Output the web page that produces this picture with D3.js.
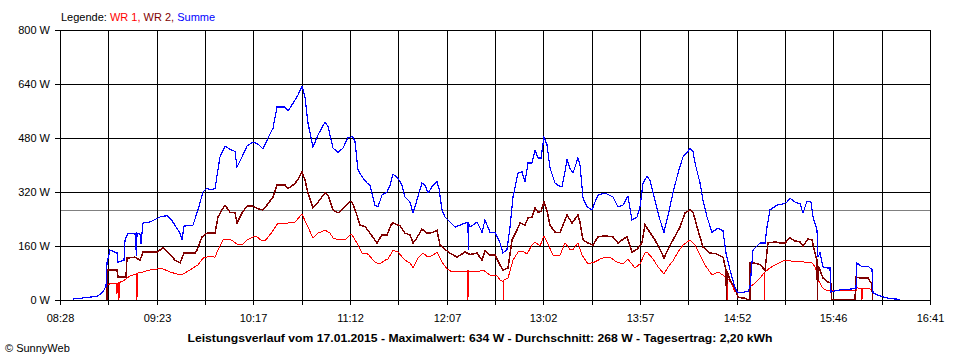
<!DOCTYPE html>
<html><head><meta charset="utf-8">
<script src="https://cdn.jsdelivr.net/npm/d3@7"></script>
<style>
body{margin:0;background:#fff}
svg{display:block}
text{font-family:"Liberation Sans",Arial,sans-serif;font-size:11px}
</style>
</head><body>
<svg id="chart" width="960" height="360"></svg>
<script>
// ---------------- data ----------------
const timeStart = "08:28", timeEnd = "16:41";
const xTickLabels = ["08:28","09:23","10:17","11:12","12:07","13:02","13:57","14:52","15:46","16:41"];
const yTicks = [0,160,320,480,640,800];
const average = 268;
const legendItems = ["WR 1", "WR 2", "Summe"];
const seriesColors = ["#ff0000", "#800000", "#0000ff"];
const titleText = "Leistungsverlauf vom 17.01.2015 - Maximalwert: 634 W - Durchschnitt: 268 W - Tagesertrag: 2,20 kWh";

const summe = [["08:35:22",3],["08:39:20",5],["08:43:52",8],["08:47:50",10],["08:49:32",12],["08:52:22",25],["08:54:04",40],["08:54:38",110],["08:56:20",148],["08:59:10",142],["09:00:18",140],["09:00:52",112],["09:04:16",118],["09:04:50",178],["09:06:32",198],["09:10:30",198],["09:11:21",130],["09:11:38",198],["09:13:20",195],["09:13:54",165],["09:14:28",198],["09:15:02",228],["09:19:00",231],["09:24:40",246],["09:28:38",250],["09:31:28",235],["09:36:00",198],["09:37:08",178],["09:38:16",219],["09:43:22",222],["09:46:12",267],["09:49:02",320],["09:51:18",332],["09:53:00",326],["09:55:50",330],["09:58:40",424],["10:01:30",456],["10:04:20",447],["10:07:10",440],["10:08:18",394],["10:11:08",424],["10:13:58",456],["10:17:22",468],["10:20:12",462],["10:23:02",447],["10:25:52",480],["10:28:42",509],["10:30:58",572],["10:35:30",572],["10:37:12",560],["10:40:02",583],["10:42:52",607],["10:45:08",634],["10:46:50",600],["10:48:32",524],["10:51:22",453],["10:54:12",489],["10:58:10",527],["10:59:52",515],["11:02:42",450],["11:05:32",438],["11:08:22",450],["11:11:12",483],["11:12:20",480],["11:13:28",486],["11:15:10",470],["11:16:52",385],["11:19:08",365],["11:21:58",347],["11:23:40",340],["11:26:30",281],["11:28:12",276],["11:30:28",311],["11:33:18",320],["11:35:00",340],["11:36:42",373],["11:39:32",361],["11:41:48",340],["11:43:30",305],["11:46:20",290],["11:48:02",258],["11:49:44",287],["11:53:08",347],["11:54:50",340],["11:56:32",317],["11:59:22",340],["12:01:38",350],["12:02:46",330],["12:04:28",267],["12:06:10",246],["12:09:00",231],["12:11:50",216],["12:14:40",222],["12:17:30",228],["12:19:12",230],["12:19:22",148],["12:19:32",226],["12:20:20",216],["12:24:18",231],["12:27:08",201],["12:28:50",237],["12:31:40",201],["12:34:30",201],["12:37:20",169],["12:39:02",139],["12:41:18",150],["12:43:00",216],["12:44:42",305],["12:47:32",376],["12:49:48",380],["12:51:30",350],["12:53:12",406],["12:55:28",406],["12:57:10",444],["12:58:52",421],["13:00:34",421],["13:02:16",483],["13:03:58",460],["13:05:40",391],["13:08:30",347],["13:10:12",340],["13:12:28",335],["13:14:10",380],["13:15:18",418],["13:17:00",390],["13:18:42",376],["13:21:32",421],["13:22:40",400],["13:24:22",302],["13:26:38",276],["13:29:28",267],["13:31:10",290],["13:32:52",311],["13:36:50",317],["13:41:22",305],["13:44:12",276],["13:47:02",281],["13:49:52",308],["13:52:08",237],["13:54:58",246],["13:56:40",276],["13:58:22",345],["14:00:38",367],["14:02:20",355],["14:05:10",296],["14:08:00",237],["14:10:16",201],["14:12:32",250],["14:15:22",317],["14:18:12",376],["14:21:02",424],["14:23:52",440],["14:25:00",450],["14:26:42",440],["14:27:50",406],["14:30:40",347],["14:32:22",296],["14:34:38",246],["14:37:28",201],["14:40:52",213],["14:43:42",205],["14:45:24",139],["14:47:40",89],["14:50:30",36],["14:52:12",21],["14:57:52",25],["14:59:00",39],["15:00:42",148],["15:04:40",169],["15:07:30",169],["15:08:38",216],["15:10:20",267],["15:14:18",281],["15:17:42",285],["15:19:58",290],["15:21:40",302],["15:24:30",290],["15:27:20",285],["15:29:02",258],["15:31:18",293],["15:33:34",290],["15:34:42",246],["15:36:58",207],["15:37:32",127],["15:38:40",140],["15:40:22",98],["15:42:38",95],["15:44:20",95],["15:44:54",24],["15:50:00",30],["15:55:40",32],["15:59:04",35],["15:59:38",110],["16:02:28",98],["16:05:52",100],["16:08:08",90],["16:08:42",21],["16:12:40",12],["16:18:20",4],["16:24:00",2]];

const wr2 = [["08:54:38",0],["08:54:46",89],["08:56:20",89],["09:00:18",89],["09:00:52",68],["09:05:24",68],["09:05:58",124],["09:10:30",127],["09:13:20",118],["09:15:02",142],["09:22:58",142],["09:26:22",154],["09:29:12",142],["09:33:10",118],["09:36:00",110],["09:38:16",139],["09:44:30",139],["09:45:38",148],["09:48:28",187],["09:51:18",198],["09:55:50",198],["09:57:32",246],["09:59:48",267],["10:01:30",281],["10:04:20",260],["10:07:10",258],["10:08:18",228],["10:11:08",258],["10:13:58",278],["10:17:22",278],["10:20:12",270],["10:23:02",267],["10:25:52",285],["10:28:42",305],["10:30:58",341],["10:35:30",341],["10:37:12",330],["10:41:10",345],["10:42:52",358],["10:45:08",379],["10:46:50",355],["10:48:32",317],["10:51:22",273],["10:54:12",290],["10:58:10",317],["10:59:52",310],["11:02:42",267],["11:05:32",258],["11:08:22",270],["11:12:20",293],["11:13:28",290],["11:15:44",260],["11:18:00",222],["11:20:50",218],["11:23:40",198],["11:27:38",169],["11:30:28",193],["11:33:18",193],["11:35:34",222],["11:36:42",228],["11:40:40",220],["11:43:30",198],["11:46:20",193],["11:48:02",169],["11:49:44",180],["11:53:08",210],["11:55:58",198],["11:59:22",200],["12:01:38",207],["12:03:20",163],["12:06:10",150],["12:09:00",139],["12:12:58",127],["12:17:30",142],["12:20:20",135],["12:24:18",139],["12:27:08",118],["12:28:50",145],["12:31:40",133],["12:34:30",133],["12:37:20",104],["12:39:02",89],["12:41:52",95],["12:44:08",178],["12:46:58",207],["12:48:40",228],["12:51:30",222],["12:53:12",243],["12:55:28",245],["12:57:10",273],["12:58:52",260],["13:00:34",262],["13:02:16",290],["13:03:58",265],["13:05:40",222],["13:08:30",201],["13:11:20",200],["13:13:02",222],["13:15:18",252],["13:18:08",228],["13:21:32",252],["13:22:40",230],["13:24:22",178],["13:27:12",169],["13:30:02",163],["13:32:52",187],["13:36:50",190],["13:41:22",187],["13:44:12",169],["13:47:02",180],["13:49:18",187],["13:52:08",142],["13:54:58",150],["13:57:48",170],["13:59:30",222],["14:02:20",200],["14:05:10",178],["14:08:00",150],["14:10:16",124],["14:12:32",150],["14:15:22",178],["14:19:20",216],["14:22:10",258],["14:25:00",267],["14:26:42",260],["14:29:32",207],["14:32:22",157],["14:36:20",139],["14:39:44",137],["14:43:42",127],["14:45:24",89],["14:45:41",0],["14:45:58",85],["14:47:40",59],["14:50:30",36],["14:52:12",8],["14:56:10",5],["14:58:26",0],["14:59:00",0],["14:59:08",110],["15:00:42",110],["15:04:40",105],["15:06:22",95],["15:07:30",89],["15:09:12",169],["15:13:10",172],["15:16:00",169],["15:18:50",169],["15:21:40",184],["15:24:30",175],["15:27:20",172],["15:29:02",160],["15:31:52",181],["15:34:08",178],["15:35:50",139],["15:36:58",118],["15:37:15",0],["15:37:32",100],["15:38:40",89],["15:40:22",65],["15:43:12",53],["15:44:54",50],["15:45:11",0],["15:58:30",0],["15:59:04",68],["16:01:20",65],["16:05:52",65],["16:07:00",55],["16:08:08",50],["16:08:25",0]];

const wr1 = [["08:54:38",0],["08:54:46",44],["08:56:20",48],["08:59:44",50],["09:00:10",50],["09:00:18",18],["09:00:26",50],["09:01:18",51],["09:01:26",0],["09:01:34",52],["09:03:42",56],["09:07:40",71],["09:11:30",78],["09:11:38",0],["09:11:46",79],["09:12:12",80],["09:15:02",83],["09:19:00",89],["09:22:58",92],["09:26:22",92],["09:30:20",83],["09:34:18",77],["09:37:42",77],["09:41:40",89],["09:46:12",104],["09:49:02",124],["09:53:00",130],["09:55:50",127],["09:57:32",148],["10:00:22",178],["10:03:12",181],["10:06:02",175],["10:08:52",163],["10:11:08",163],["10:13:58",178],["10:17:22",187],["10:19:38",187],["10:22:28",175],["10:24:10",175],["10:28:08",201],["10:31:32",228],["10:37:12",228],["10:41:10",231],["10:45:08",255],["10:47:58",222],["10:51:22",184],["10:54:12",198],["10:58:10",207],["11:01:00",198],["11:02:42",184],["11:05:32",178],["11:09:30",178],["11:12:20",193],["11:13:28",193],["11:16:18",169],["11:19:08",139],["11:22:32",136],["11:26:30",112],["11:29:20",107],["11:32:10",118],["11:33:52",121],["11:36:42",148],["11:39:32",142],["11:43:30",118],["11:46:20",110],["11:48:02",95],["11:50:52",124],["11:53:42",139],["11:56:32",127],["11:59:22",133],["12:01:38",142],["12:04:28",112],["12:07:18",92],["12:10:08",83],["12:14:40",85],["12:19:04",86],["12:19:12",0],["12:19:20",86],["12:24:18",83],["12:27:42",89],["12:31:40",74],["12:35:38",72],["12:37:20",59],["12:38:28",56],["12:39:02",56],["12:39:10",0],["12:39:18",58],["12:41:52",65],["12:44:42",118],["12:47:32",142],["12:50:22",145],["12:52:38",136],["12:55:28",163],["12:57:10",172],["13:00:00",160],["13:02:16",190],["13:04:32",166],["13:07:22",133],["13:11:20",133],["13:14:10",169],["13:17:00",150],["13:18:42",150],["13:21:32",169],["13:23:48",133],["13:27:12",107],["13:31:10",113],["13:35:08",124],["13:39:40",127],["13:43:38",112],["13:47:02",107],["13:49:52",121],["13:53:50",95],["13:56:40",107],["13:59:30",139],["14:00:38",142],["14:04:02",122],["14:06:52",98],["14:10:16",77],["14:12:32",98],["14:15:22",116],["14:18:12",142],["14:21:02",163],["14:25:00",178],["14:27:50",163],["14:30:40",133],["14:33:30",104],["14:37:28",74],["14:40:52",83],["14:43:42",74],["14:45:58",65],["14:46:06",0],["14:46:14",63],["14:47:06",60],["14:48:48",44],["14:50:30",25],["14:52:12",21],["14:57:52",25],["14:59:00",39],["15:01:50",50],["15:04:40",65],["15:06:56",80],["15:07:04",0],["15:07:12",82],["15:10:20",95],["15:14:18",107],["15:17:42",116],["15:27:20",115],["15:30:10",112],["15:34:08",110],["15:35:50",98],["15:36:58",83],["15:37:06",0],["15:37:14",70],["15:37:32",60],["15:39:48",39],["15:41:30",30],["15:44:20",27],["15:59:04",27],["15:59:21",36],["16:02:20",34],["16:02:28",0],["16:02:36",35],["16:07:00",33],["16:08:08",27],["16:08:42",21],["16:12:40",12],["16:18:20",4],["16:24:00",2]];

// ---------------- drawing ----------------
(function () {
const parseTime = s => { const p = s.split(":").map(Number); return new Date(2015, 0, 17, p[0], p[1], p[2] || 0); };
const svg = d3.select("#chart");
const pLeft = 60, pRight = 930, pTop = 30, pBottom = 300;

const x = d3.scaleTime().domain([parseTime(timeStart), parseTime(timeEnd)]).range([pLeft, pRight]);
const y = d3.scaleLinear().domain([0, 800]).range([pBottom, pTop]);

svg.append("rect").attr("width", 960).attr("height", 360).attr("fill", "#fff");

const [t0, t1] = x.domain();
const gridTimes = d3.range(19).map(i => new Date(+t0 + i * (t1 - t0) / 18));
const px = v => Math.round(v) + 0.5;

// average line
svg.append("line")
  .attr("x1", pLeft).attr("x2", pRight)
  .attr("y1", px(y(average))).attr("y2", px(y(average)))
  .attr("stroke", "#808080").attr("stroke-width", 1).attr("shape-rendering", "crispEdges");

// grid
const grid = svg.append("g").attr("stroke", "#000").attr("stroke-width", 1).attr("shape-rendering", "crispEdges");
grid.selectAll("line.v").data(gridTimes).join("line").attr("class", "v")
  .attr("x1", d => px(x(d))).attr("x2", d => px(x(d)))
  .attr("y1", pTop).attr("y2", pBottom + 5);
grid.selectAll("line.h").data(yTicks).join("line").attr("class", "h")
  .attr("x1", pLeft - 5).attr("x2", pRight + 0.5)
  .attr("y1", d => px(y(d))).attr("y2", d => px(y(d)));

// y labels
svg.selectAll("text.yl").data(yTicks).join("text").attr("class", "yl")
  .attr("x", 50).attr("y", d => y(d) + 4).attr("text-anchor", "end")
  .text(d => d + " W");

// x labels
svg.selectAll("text.xl").data(xTickLabels).join("text").attr("class", "xl")
  .attr("x", (d, i) => px(x(gridTimes[i * 2]))).attr("y", 322).attr("text-anchor", "middle")
  .text(d => d);

// series
const line = d3.line().x(d => x(parseTime(d[0]))).y(d => y(d[1]));
[[wr1, 1], [wr2, 1.5], [summe, 1.2]].forEach(([data, w], i) => {
  svg.append("path").datum(data)
    .attr("d", line).attr("fill", "none")
    .attr("stroke", seriesColors[i]).attr("stroke-width", w)
    .attr("stroke-linejoin", "miter")
    .attr("shape-rendering", "crispEdges");
});

// bottom axis line on top
svg.append("line").attr("x1", pLeft - 5).attr("x2", pRight + 0.5)
  .attr("y1", px(y(0))).attr("y2", px(y(0)))
  .attr("stroke", "#000").attr("shape-rendering", "crispEdges");

// legend
const lg = svg.append("text").attr("x", 61).attr("y", 21);
lg.append("tspan").attr("fill", "#000").text("Legende: ");
legendItems.forEach((t, i) => {
  lg.append("tspan").attr("fill", seriesColors[i]).text(t + (i < legendItems.length - 1 ? ", " : ""));
});

// title
svg.append("text").attr("x", 480).attr("y", 342).attr("text-anchor", "middle")
  .attr("font-weight", "bold").attr("textLength", 585).attr("lengthAdjust", "spacingAndGlyphs")
  .text(titleText);

// copyright
svg.append("text").attr("x", 5).attr("y", 352).text("© SunnyWeb");
})();
</script>
</body></html>
